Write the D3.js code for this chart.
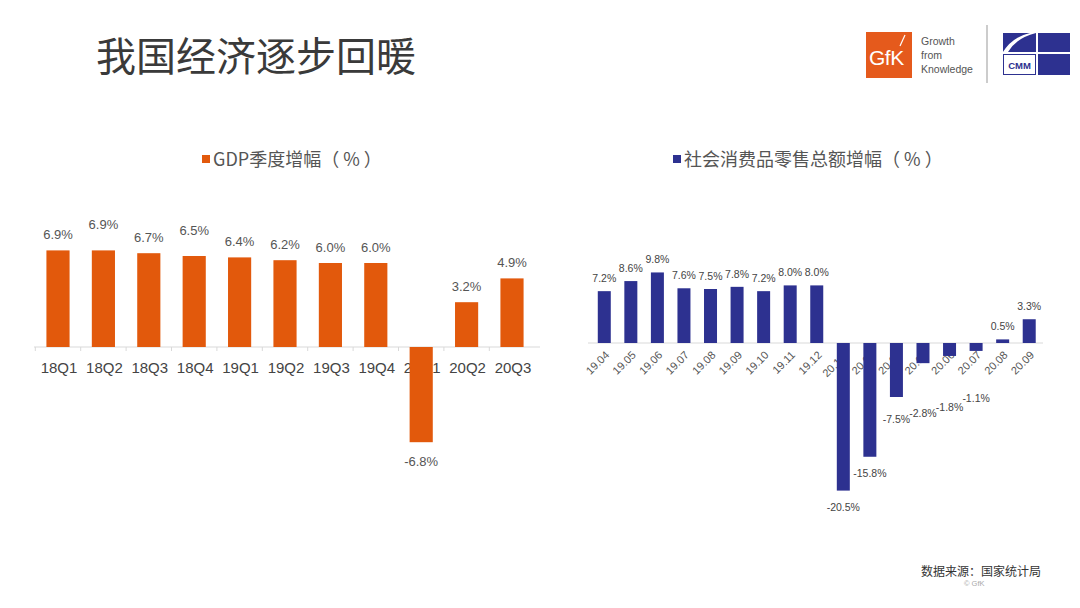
<!DOCTYPE html>
<html><head><meta charset="utf-8">
<script src="https://cdn.jsdelivr.net/npm/d3@7"></script>
<style>
html,body{margin:0;padding:0;background:#fff;}
svg{display:block;font-family:"Liberation Sans","Noto Sans CJK SC",sans-serif;}
</style></head>
<body><svg id="c" width="1080" height="608"></svg>
<script>
// ---- data ----
const gdpCategories = ["18Q1","18Q2","18Q3","18Q4","19Q1","19Q2","19Q3","19Q4","20Q1","20Q2","20Q3"];
const gdpValues = [6.9,6.9,6.7,6.5,6.4,6.2,6.0,6.0,-6.8,3.2,4.9];
const retailCategories = ["19.04","19.05","19.06","19.07","19.08","19.09","19.10","19.11","19.12","20.1-2","20.03","20.04","20.05","20.06","20.07","20.08","20.09"];
const retailValues = [7.2,8.6,9.8,7.6,7.5,7.8,7.2,8.0,8.0,-20.5,-15.8,-7.5,-2.8,-1.8,-1.1,0.5,3.3];
const titleText = "我国经济逐步回暖";
const gdpLegend = "GDP季度增幅（ % ）";
const retailLegend = "社会消费品零售总额增幅（ % ）";
const sourceText = "数据来源：国家统计局";

const ORANGE = "#E2590C", NAVY = "#2D3190";
const svg = d3.select("#c");
const cjk = '"Noto Sans CJK SC","Liberation Sans",sans-serif';

// title
svg.append("text").attr("x",96).attr("y",71).attr("font-family",cjk)
  .attr("font-size",40).attr("fill","#3a3a3a").text(titleText);

// ---- logos ----
const lg = svg.append("g");
lg.append("rect").attr("x",866).attr("y",32).attr("width",46).attr("height",46).attr("fill","#E55A1C");
lg.append("text").attr("x",869).attr("y",65).attr("font-size",21).attr("fill","#fff")
  .attr("font-family","'Liberation Sans',sans-serif").attr("letter-spacing",-0.5).text("GfK");
lg.append("line").attr("x1",905).attr("y1",35).attr("x2",900).attr("y2",46).attr("stroke","#fff").attr("stroke-width",1.2);
["Growth","from","Knowledge"].forEach((t,i)=>{
  lg.append("text").attr("x",921).attr("y",45+i*14).attr("font-size",10.5).attr("fill","#555").text(t);
});
lg.append("line").attr("x1",987).attr("y1",25).attr("x2",987).attr("y2",83).attr("stroke","#999").attr("stroke-width",1);
// CMM logo
lg.append("rect").attr("x",1003).attr("y",33).attr("width",33).attr("height",19).attr("fill",NAVY);
lg.append("path").attr("d","M1003,52 Q1012,37 1030,33 L1036,33 Q1016,38 1008,52 Z").attr("fill","#fff");
lg.append("rect").attr("x",1038).attr("y",33).attr("width",32).attr("height",19).attr("fill",NAVY);
lg.append("rect").attr("x",1003.5).attr("y",54.5).attr("width",32).attr("height",20).attr("fill","#fff").attr("stroke",NAVY).attr("stroke-width",1);
lg.append("text").attr("x",1019.5).attr("y",69).attr("text-anchor","middle").attr("font-size",9.5).attr("font-weight","bold").attr("fill",NAVY).text("CMM");
lg.append("rect").attr("x",1038).attr("y",54).attr("width",32).attr("height",21).attr("fill",NAVY);

// ---- left chart ----
const xL = d3.scalePoint().domain(gdpCategories).range([35.3,534.7]).padding(0.5);
const yL = d3.scaleLinear().domain([-7,7]).range([445,249]);
const bwL = xL.step()*0.51;
const gL = svg.append("g");
// legend
gL.append("rect").attr("x",202).attr("y",155).attr("width",8).attr("height",8).attr("fill",ORANGE);
gL.append("text").attr("x",213).attr("y",166).attr("font-family",cjk).attr("font-size",18).attr("fill","#555").text(gdpLegend);
// axis
gL.append("line").attr("x1",34).attr("x2",540).attr("y1",yL(0)).attr("y2",yL(0)).attr("stroke","#d9d9d9");
gdpCategories.forEach((c,i)=>{
  const xb = xL(c)-xL.step()/2;
  gL.append("line").attr("x1",xb).attr("x2",xb).attr("y1",yL(0)).attr("y2",yL(0)+4).attr("stroke","#d9d9d9");
});
gL.selectAll("text.cat").data(gdpCategories).join("text").attr("class","cat")
  .attr("x",d=>xL(d)+1).attr("y",yL(0)+26).attr("text-anchor","middle")
  .attr("font-size",15).attr("fill","#444").text(d=>d);
gL.selectAll("rect.bar").data(gdpValues).join("rect").attr("class","bar")
  .attr("x",(d,i)=>xL(gdpCategories[i])-bwL/2).attr("width",bwL)
  .attr("y",d=>yL(Math.max(0,d))).attr("height",d=>Math.abs(yL(d)-yL(0)))
  .attr("fill",ORANGE);
gL.selectAll("text.val").data(gdpValues).join("text").attr("class","val")
  .attr("x",(d,i)=>xL(gdpCategories[i])).attr("text-anchor","middle")
  .attr("y",(d,i)=> d>=0 ? yL(d)-11-((i===1||i===3)?10:0) : yL(d)+24)
  .attr("font-size",13).attr("fill","#555").text(d=>d.toFixed(1)+"%");

// ---- right chart ----
const xR = d3.scalePoint().domain(retailCategories).range([591,1042.5]).padding(0.5);
const yR = d3.scaleLinear().domain([-21,10]).range([494.2,271]);
const bwR = 13;
const gR = svg.append("g");
gR.append("rect").attr("x",673).attr("y",155).attr("width",8).attr("height",8).attr("fill",NAVY);
gR.append("text").attr("x",684).attr("y",166).attr("font-family",cjk).attr("font-size",18).attr("fill","#555").text(retailLegend);
gR.append("line").attr("x1",588).attr("x2",1043).attr("y1",yR(0)).attr("y2",yR(0)).attr("stroke","#d9d9d9");
gR.selectAll("text.cat").data(retailCategories).join("text").attr("class","cat")
  .attr("transform",d=>`translate(${xR(d)+3},${yR(0)+10}) rotate(-45)`)
  .attr("text-anchor","end").attr("dy","0.35em")
  .attr("font-size",11).attr("fill","#555").text(d=>d);
gR.selectAll("rect.bar").data(retailValues).join("rect").attr("class","bar")
  .attr("x",(d,i)=>xR(retailCategories[i])-bwR/2).attr("width",bwR)
  .attr("y",d=>yR(Math.max(0,d))).attr("height",d=>Math.abs(yR(d)-yR(0)))
  .attr("fill",NAVY);
gR.selectAll("text.val").data(retailValues).join("text").attr("class","val")
  .attr("x",(d,i)=>xR(retailCategories[i])).attr("text-anchor","middle")
  .attr("y",d=> d>=0 ? yR(d)-9 : Math.max(yR(d)+20, yR(0)+84-28/(-d)))
  .attr("font-size",10.5).attr("fill","#444").text(d=>d.toFixed(1)+"%");

// source
svg.append("text").attr("x",921).attr("y",576).attr("font-family",cjk).attr("font-size",12).attr("fill","#333").text(sourceText);
svg.append("text").attr("x",964).attr("y",586).attr("font-size",7.5).attr("fill","#aaa").text("© GfK");
</script></body></html>
